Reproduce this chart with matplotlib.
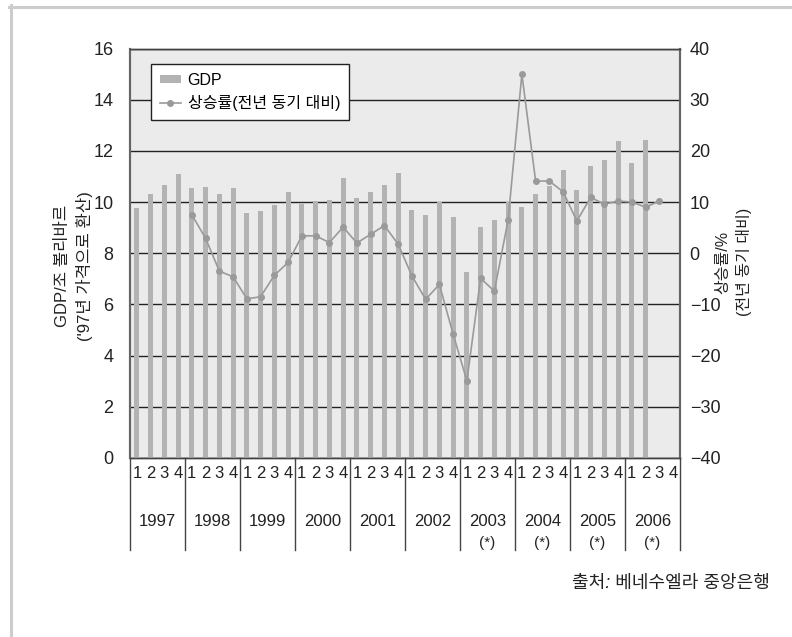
import matplotlib
matplotlib.use("Agg")
import matplotlib.pyplot as plt
from matplotlib.lines import Line2D
from matplotlib.patches import Patch

plt.rcParams['font.family'] = ['Liberation Sans', 'Noto Sans CJK KR', 'DejaVu Sans']

# Quarterly real GDP (trillion bolivares, 1997 prices), 1997 Q1 - 2006 Q2
years = ['1997', '1998', '1999', '2000', '2001', '2002', '2003', '2004', '2005', '2006']
year_notes = ['', '', '', '', '', '', '(*)', '(*)', '(*)', '(*)']
quarters = ['1', '2', '3', '4']
gdp = [9.78, 10.32, 10.68, 11.09,
       10.56, 10.60, 10.32, 10.56,
       9.58, 9.66, 9.89, 10.39,
       9.93, 10.04, 10.09, 10.94,
       10.17, 10.40, 10.68, 11.13,
       9.69, 9.49, 10.01, 9.41,
       7.28, 9.02, 9.30, 10.00,
       9.80, 10.32, 10.64, 11.25,
       10.47, 11.42, 11.64, 12.39,
       11.52, 12.43]
# Year-on-year growth (%), 1998 Q1 - 2006 Q3
growth_start = 4
growth = [7.5, 2.9, -3.5, -4.6,
          -8.9, -8.5, -4.3, -1.8,
          3.4, 3.4, 2.1, 5.1,
          2.0, 3.7, 5.4, 1.8,
          -4.4, -9.0, -6.1, -15.8,
          -24.9, -4.9, -7.4, 6.5,
          35.0, 14.1, 14.1, 12.0,
          6.3, 10.9, 9.6, 10.2,
          10.0, 9.0, 10.2]

W, H = 792, 637
fig = plt.figure(figsize=(W / 100, H / 100), dpi=100)
fig.patch.set_facecolor('white')

# axes rectangle in pixels
L, R, T, B = 130, 680, 48.5, 458
ax = fig.add_axes([L / W, 1 - B / H, (R - L) / W, (B - T) / H])
ax2 = ax.twinx()

n_q = len(years) * 4
bar_color = '#b3b3b3'
line_color = '#9a9a9a'
text_color = '#222222'

ax.set_facecolor('#ebebeb')
ax.bar(range(len(gdp)), gdp, width=0.38, color=bar_color, zorder=3)
ax.set_xlim(-0.5, n_q - 0.5)
ax.set_ylim(0, 16)
ax.set_yticks(range(0, 17, 2))
ax.yaxis.grid(True, color='#222222', linewidth=1.0, zorder=1)
ax.set_axisbelow(True)
ax.set_xticks([])
ax.tick_params(axis='y', length=0, pad=12, labelsize=13, colors=text_color)

gx = list(range(growth_start, growth_start + len(growth)))
ax2.plot(gx, growth, color=line_color, linewidth=1.2, marker='o',
         markersize=4, zorder=5)
ax2.set_ylim(-40, 40)
ax2.set_yticks(range(-40, 41, 10))
ax2.tick_params(axis='y', length=0, pad=7, labelsize=13, colors=text_color)

for a in (ax, ax2):
    for s in ('left', 'right'):
        a.spines[s].set_color('#666666')
        a.spines[s].set_linewidth(1.5)
    for s in ('top', 'bottom'):
        a.spines[s].set_color('#444444')
        a.spines[s].set_linewidth(1.0)

# quarter / year labels beneath the axes
tr = ax.get_xaxis_transform()
for i in range(n_q):
    ax.text(i, -0.039, quarters[i % 4], transform=tr, ha='center', va='center',
            fontsize=12, color=text_color)
for k, y in enumerate(years):
    c = 4 * k + 1.5
    ax.text(c, -0.154, y, transform=tr, ha='center', va='center',
            fontsize=12, color=text_color)
    if year_notes[k]:
        ax.text(c, -0.207, year_notes[k], transform=tr, ha='center',
                va='center', fontsize=11, color=text_color)
for k in range(len(years) + 1):
    ax.add_line(Line2D([4 * k - 0.5] * 2, [0, -0.225], transform=tr,
                       color='#444444', linewidth=1.0, clip_on=False))

# axis titles
fig.text(62 / W, 1 - 266 / H, 'GDP/조 볼리바르', rotation=90, ha='center',
         va='center', fontsize=12, color=text_color)
fig.text(84 / W, 1 - 266 / H, "('97년 가격으로 환산)", rotation=90, ha='center',
         va='center', fontsize=12, color=text_color)
fig.text(723 / W, 1 - 262 / H, '상승률/%', rotation=90, ha='center',
         va='center', fontsize=11.5, color=text_color)
fig.text(744 / W, 1 - 262 / H, '(전년 동기 대비)', rotation=90, ha='center',
         va='center', fontsize=11.5, color=text_color)

# legend
handles = [Patch(facecolor=bar_color, edgecolor='none'),
           Line2D([], [], color=line_color, linewidth=1.2, marker='o',
                  markersize=4)]
leg = ax2.legend(handles, ['GDP', '상승률(전년 동기 대비)'],
                 loc='upper left', bbox_to_anchor=(0.038, 0.962),
                 borderaxespad=0, frameon=True, fancybox=False, framealpha=1,
                 edgecolor='#222222', fontsize=11.5, handlelength=1.35,
                 handleheight=0.4, handletextpad=0.4, borderpad=0.55,
                 labelspacing=0.45)
leg.get_frame().set_linewidth(1.0)

# source note
fig.text(770 / W, 1 - 583 / H, '출처: 베네수엘라 중앙은행', ha='right',
         va='center', fontsize=13, style='italic', color=text_color)

# outer frame (top and left edges)
fig.add_artist(Line2D([9 / W, 1], [1 - 6.5 / H] * 2, transform=fig.transFigure,
                      color='#cccccc', linewidth=2.2))
fig.add_artist(Line2D([10.5 / W] * 2, [0, 1 - 5 / H], transform=fig.transFigure,
                      color='#cccccc', linewidth=2.2))

fig.savefig('out.png', dpi=100, facecolor='white')
